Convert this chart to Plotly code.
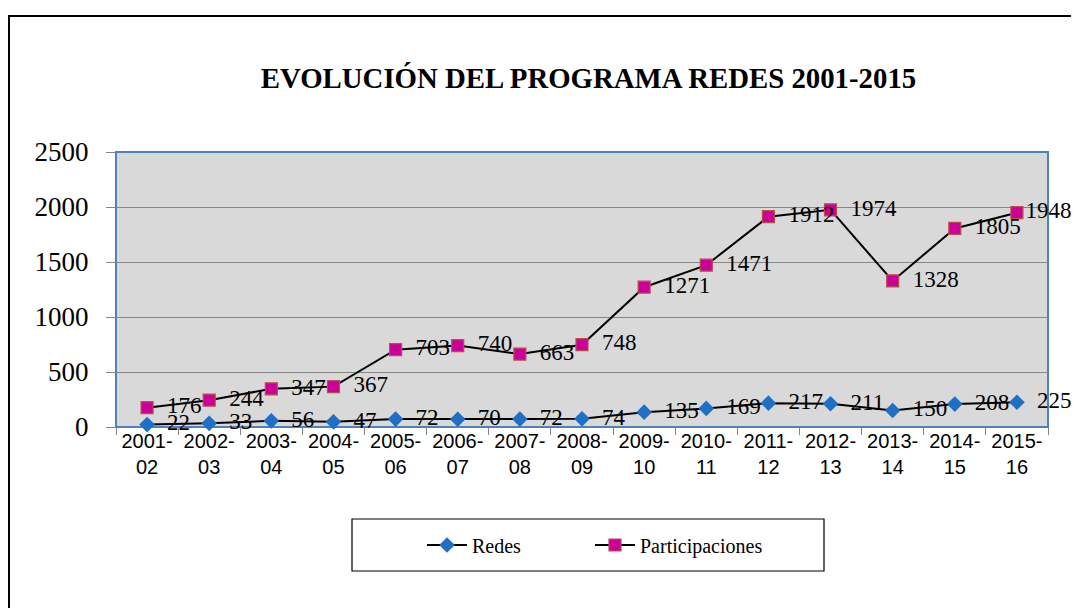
import plotly.graph_objects as go

categories = ["2001-02", "2002-03", "2003-04", "2004-05", "2005-06", "2006-07", "2007-08",
              "2008-09", "2009-10", "2010-11", "2011-12", "2012-13", "2013-14", "2014-15", "2015-16"]
redes = [22, 33, 56, 47, 72, 70, 72, 74, 135, 169, 217, 211, 150, 208, 225]
participaciones = [176, 244, 347, 367, 703, 740, 663, 748, 1271, 1471, 1912, 1974, 1328, 1805, 1948]
y_ticks = [0, 500, 1000, 1500, 2000, 2500]
title_text = "EVOLUCIÓN DEL PROGRAMA REDES 2001-2015"

tick_labels = [c.replace("-", "-<br>", 1) for c in categories]

# page offset (body margin) compensation
OFF = 8
W, H = 1079 - OFF, 608 - OFF
L, R, T, B = 116 - OFF, 1048 - OFF, 152 - OFF, 427 - OFF
pw, ph = R - L, B - T

def px(x):
    return (x - OFF - L) / pw

def py(y):
    return (B - (y - OFF)) / ph

serif = "Liberation Serif, Times New Roman, serif"
sans = "Liberation Sans, Arial, sans-serif"
NB = "\u00a0\u00a0"

redes_text = [NB + str(v) for v in redes]
part_text = [NB + str(v) for v in participaciones]
part_text[-1] = str(participaciones[-1])  # last label sits tight against the marker

fig = go.Figure()
fig.add_trace(go.Scatter(
    x=categories, y=redes, name="Redes", mode="lines+markers+text",
    line=dict(color="black", width=2),
    marker=dict(symbol="diamond", size=12, color="#1F6FC5", line=dict(width=0)),
    text=redes_text, textposition="middle right",
    textfont=dict(family=serif, size=23, color="black"), cliponaxis=False,
    legend="legend",
))
fig.add_trace(go.Scatter(
    x=categories, y=participaciones, name="Participaciones", mode="lines+markers+text",
    line=dict(color="black", width=2),
    marker=dict(symbol="square", size=12, color="#CC0099", line=dict(width=1.2, color="#B5504A")),
    text=part_text, textposition="middle right",
    textfont=dict(family=serif, size=23, color="black"), cliponaxis=False,
    legend="legend2",
))

shapes = [
    dict(type="rect", xref="paper", yref="paper", x0=0, y0=0, x1=1, y1=1,
         line=dict(color="#4F81BD", width=2), layer="below"),
    dict(type="rect", xref="paper", yref="paper", x0=px(9), y0=py(630), x1=px(1100), y1=py(16),
         line=dict(color="black", width=2)),
    dict(type="rect", xref="paper", yref="paper", x0=px(352), y0=py(571), x1=px(824), y1=py(519),
         line=dict(color="black", width=1.2)),
]

legend_common = dict(orientation="h", yanchor="middle", y=py(545), xanchor="left",
                     font=dict(family=serif, size=20, color="black"),
                     bgcolor="rgba(0,0,0,0)", borderwidth=0, itemwidth=40)

fig.update_layout(
    width=W, height=H,
    margin=dict(l=L, r=W - R, t=T, b=H - B),
    paper_bgcolor="white", plot_bgcolor="#D9D9D9",
    showlegend=True,
    title=dict(text="<b>" + title_text + "</b>", xref="paper", x=px(588.5), xanchor="center",
               yref="container", y=1 - (78 - OFF) / H, yanchor="middle",
               font=dict(family=serif, size=28.8, color="black")),
    xaxis=dict(type="category", categoryorder="array", categoryarray=categories,
               tickvals=categories, ticktext=tick_labels,
               tickson="boundaries", ticks="outside", ticklen=7, tickcolor="#868686",
               showgrid=False, showline=False, zeroline=False,
               tickfont=dict(family=sans, size=20, color="black"),
               range=[-0.5, len(categories) - 0.5]),
    yaxis=dict(range=[0, 2500], tickvals=y_ticks, ticks="outside", ticklen=9,
               tickcolor="#868686", showgrid=True, gridcolor="#868686", gridwidth=1,
               zeroline=False, showline=False, ticklabelstandoff=12,
               tickfont=dict(family=serif, size=27, color="black")),
    legend=dict(x=px(422), **legend_common),
    legend2=dict(x=px(590), **legend_common),
    shapes=shapes,
)

fig.write_html("out.html")
